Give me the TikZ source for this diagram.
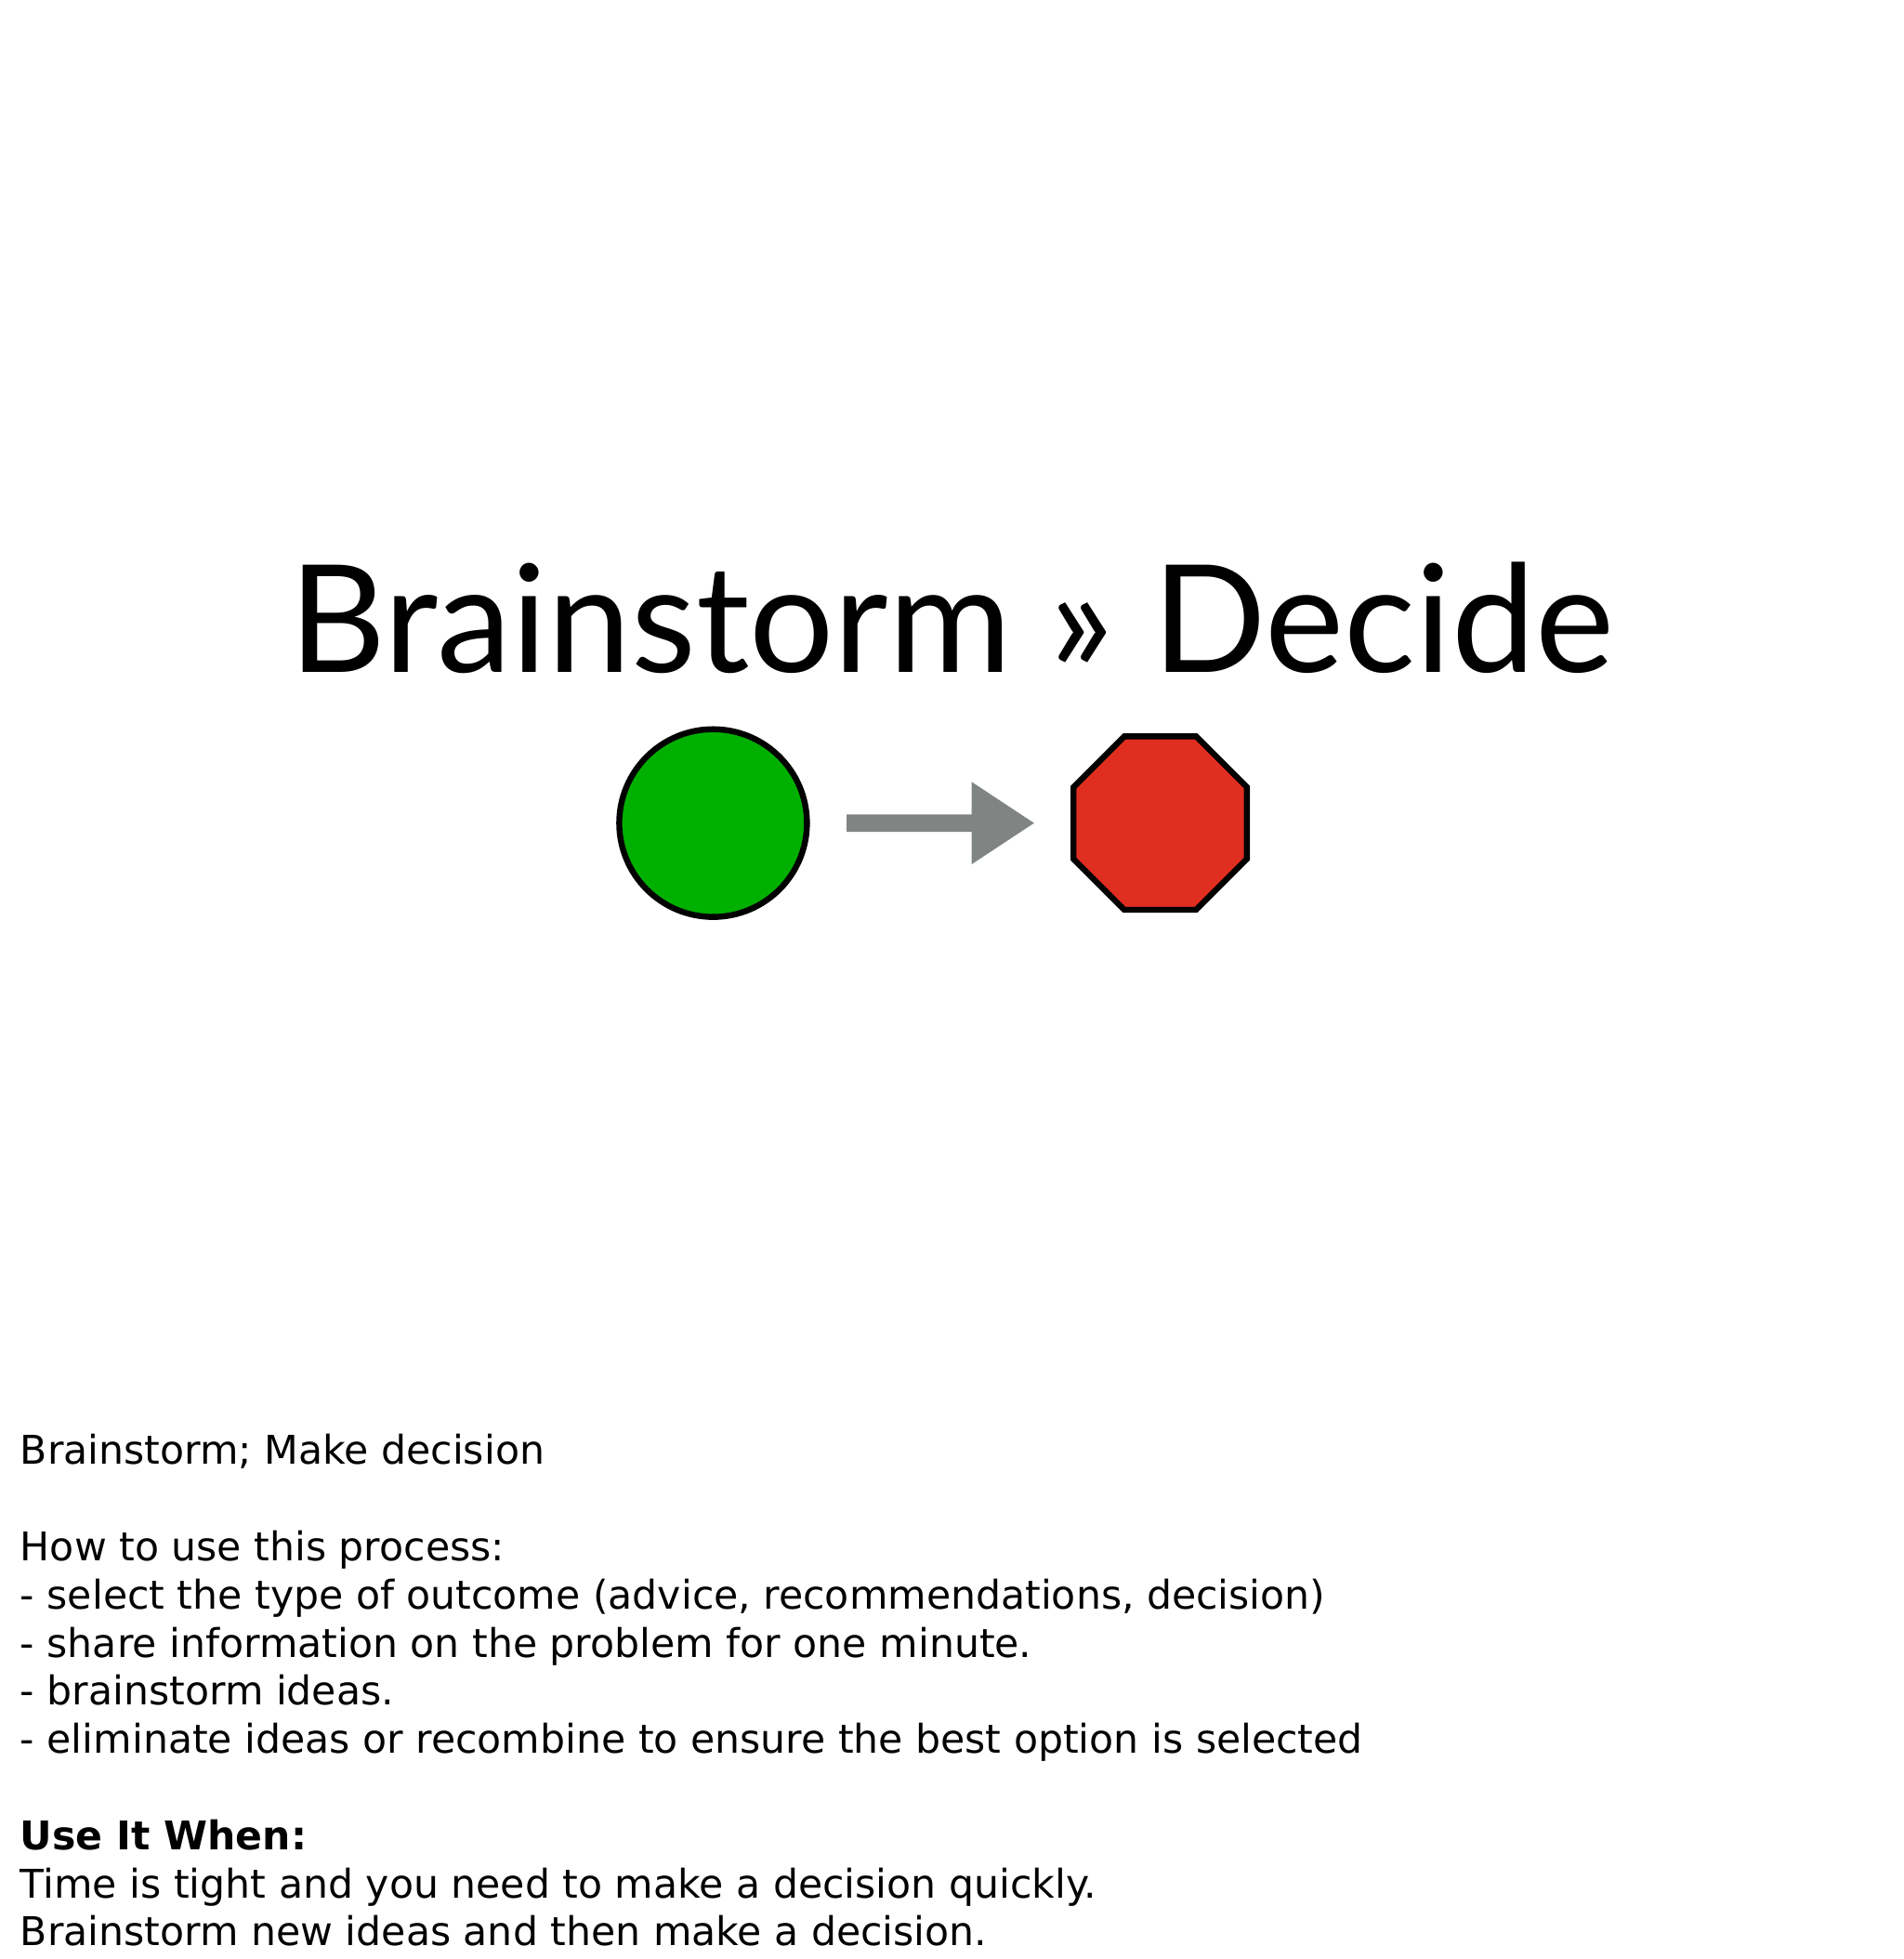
\documentclass[tikz,border=0pt]{standalone}
\usepackage{fontspec}
\setmainfont{DejaVu Sans}
\newfontfamily\titlefont{Lato}
\usetikzlibrary{shapes.geometric}
\definecolor{gogreen}{HTML}{00B000}
\definecolor{stopred}{HTML}{E02E20}
\definecolor{arrgray}{HTML}{808584}
\tikzset{body/.style={anchor=base west,inner sep=0pt,font=\fontsize{21.3}{24}\selectfont}}
\begin{document}
\begin{tikzpicture}[x=0.672pt,y=-0.672pt]
\useasboundingbox[fill=white] (0,0) rectangle (1524,1568.5);
\node[anchor=base,inner sep=0pt,font=\titlefont\fontsize{80.5}{90}\selectfont] (title) at (762,538) {Brainstorm » Decide};
\node[circle,draw=black,line width=3.2pt,fill=gogreen,minimum size=101pt,inner sep=0pt] (go) at (571,659) {};
\node[regular polygon,regular polygon sides=8,draw=black,line width=3.2pt,fill=stopred,minimum size=101pt,inner sep=0pt] (stop) at (929,659) {};
\fill[arrgray] (678,652) -- (778,652) -- (778,626) -- (828,659) -- (778,692) -- (778,666) -- (678,666) -- cycle;
\node[body] (l1) at (16,1172) {Brainstorm; Make decision};
\node[body] (l2) at (16,1250) {How to use this process:};
\node[body] (l3) at (16,1288) {- select the type of outcome (advice, recommendations, decision)};
\node[body] (l4) at (16,1327) {- share information on the problem for one minute.};
\node[body] (l5) at (16,1365) {- brainstorm ideas.};
\node[body] (l6) at (16,1404) {- eliminate ideas or recombine to ensure the best option is selected};
\node[body,font=\bfseries\fontsize{21.3}{24}\selectfont] (l7) at (16,1481) {Use It When:};
\node[body] (l8) at (16,1520) {Time is tight and you need to make a decision quickly.};
\node[body] (l9) at (16,1558) {Brainstorm new ideas and then make a decision.};
\end{tikzpicture}
\end{document}
